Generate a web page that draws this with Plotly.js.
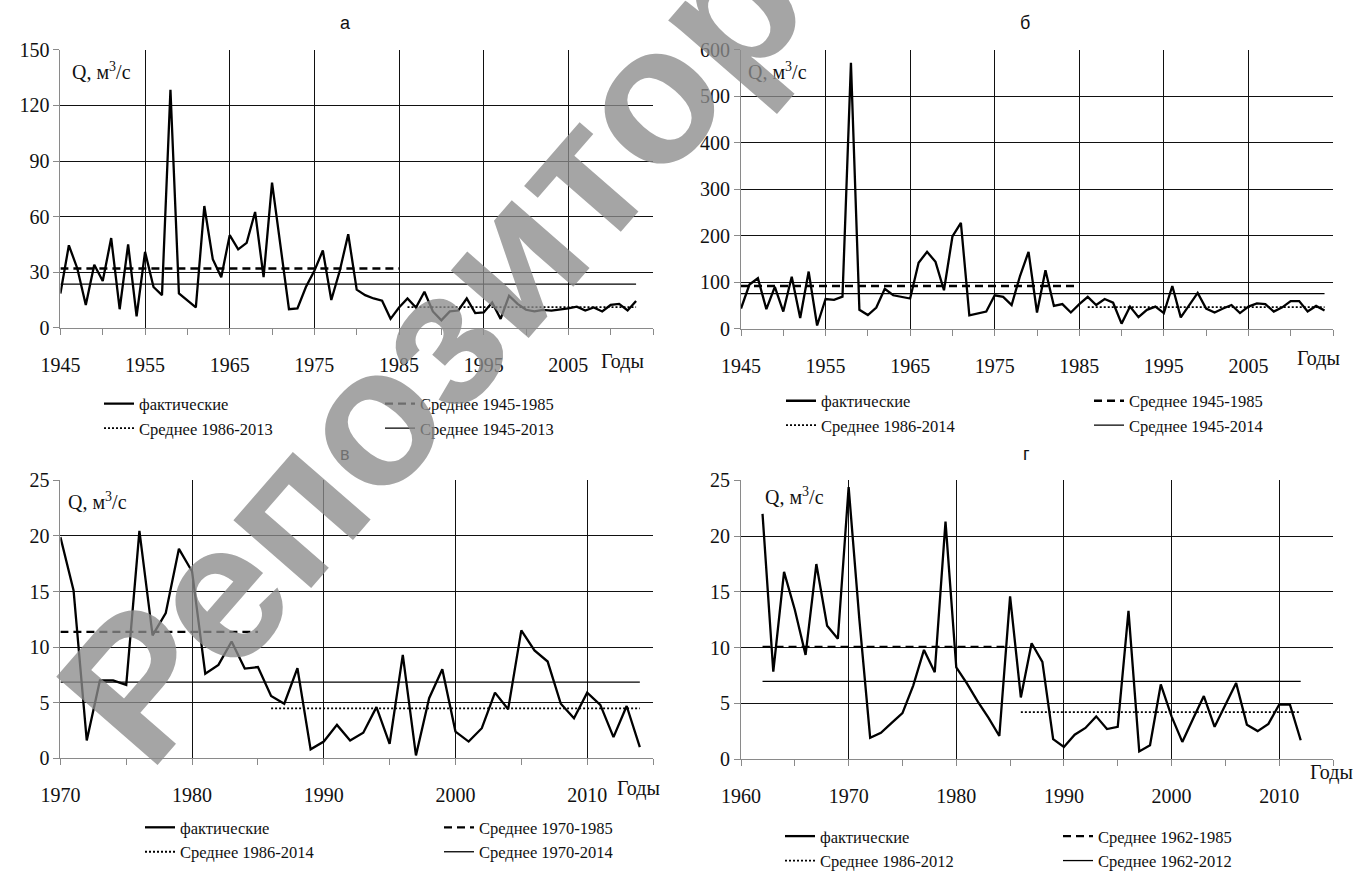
<!DOCTYPE html>
<html><head><meta charset="utf-8">
<script src="https://cdn.plot.ly/plotly-3.0.1.min.js"></script>
<style>html,body{margin:0;padding:0;background:#fff}#chart{width:1361px;height:878px}</style>
</head><body><div id="chart"></div>
<script>
// ---------- DATA ----------
const yearsA = [1945,1946,1947,1948,1949,1950,1951,1952,1953,1954,1955,1956,1957,1958,1959,1960,1961,1962,1963,1964,1965,1966,1967,1968,1969,1970,1971,1972,1973,1974,1975,1976,1977,1978,1979,1980,1981,1982,1983,1984,1985,1986,1987,1988,1989,1990,1991,1992,1993,1994,1995,1996,1997,1998,1999,2000,2001,2002,2003,2004,2005,2006,2007,2008,2009,2010,2011,2012,2013];
const flowA = [18.5,44.5,32,12.3,34,25.2,48.4,10,45,6.2,
  41,22,17.6,128.5,18.5,15,11,65.7,37,27.3,
  50,42.3,45.8,62.5,27.3,78.3,44,10,10.4,22,
  30.8,41.7,15,30.8,50.5,20.6,17.6,15.8,14.6,4.8,
  10.9,15.8,10.9,19.4,8.8,4,8.8,9.3,15.8,7.9,
  8.3,13.6,4.8,17.3,12.9,9.7,8.8,9.7,9.3,9.7,
  10.4,11.4,9.3,11,8.8,12.3,12.9,9.3,14.4];
const periodsA = [[1945,1985],[1986,2013],[1945,2013]];
const meansA = [32, 11.1, 23.6];

const yearsB = [1945,1946,1947,1948,1949,1950,1951,1952,1953,1954,1955,1956,1957,1958,1959,1960,1961,1962,1963,1964,1965,1966,1967,1968,1969,1970,1971,1972,1973,1974,1975,1976,1977,1978,1979,1980,1981,1982,1983,1984,1985,1986,1987,1988,1989,1990,1991,1992,1993,1994,1995,1996,1997,1998,1999,2000,2001,2002,2003,2004,2005,2006,2007,2008,2009,2010,2011,2012,2013,2014];
const flowB = [43.5,95,108.7,42,90,37,112,23,123,7,
  64,62,69,572,40.7,29.5,45.6,86,72,68.7,
  65,142,165.5,144,82.7,198.5,228,28.8,33.7,37,
  72,68.7,51,114,165.5,35,126,49,53,35,
  53,68.7,51,64,56,11,47.7,25,40.7,47.7,
  33.7,92,24.5,51,77,43.5,35,43.5,51,33.7,
  47.7,54.7,53,37,46,59.6,59.6,37,49,39];
const periodsB = [[1945,1985],[1986,2014],[1945,2014]];
const meansB = [92, 46.3, 75.7];

const yearsC = [1970,1971,1972,1973,1974,1975,1976,1977,1978,1979,1980,1981,1982,1983,1984,1985,1986,1987,1988,1989,1990,1991,1992,1993,1994,1995,1996,1997,1998,1999,2000,2001,2002,2003,2004,2005,2006,2007,2008,2009,2010,2011,2012,2013,2014];
const flowC = [19.9,15.1,1.6,7.0,7.0,6.6,20.45,11.06,13.06,18.84,
  16.8,7.6,8.4,10.5,8.07,8.2,5.6,4.9,8.1,0.8,
  1.5,3.0,1.6,2.3,4.6,1.3,9.3,0.25,5.4,8.0,
  2.4,1.5,2.7,5.9,4.4,11.5,9.7,8.7,4.9,3.6,
  5.9,4.8,1.9,4.7,1.0];
const periodsC = [[1970,1985],[1986,2014],[1970,2014]];
const meansC = [11.36, 4.49, 6.84];

const yearsD = [1962,1963,1964,1965,1966,1967,1968,1969,1970,1971,1972,1973,1974,1975,1976,1977,1978,1979,1980,1981,1982,1983,1984,1985,1986,1987,1988,1989,1990,1991,1992,1993,1994,1995,1996,1997,1998,1999,2000,2001,2002,2003,2004,2005,2006,2007,2008,2009,2010,2011,2012];
const flowD = [22.0,7.85,16.8,13.4,9.35,17.5,11.96,10.8,
  24.4,12.5,1.93,2.37,3.25,4.13,6.6,9.8,7.8,21.3,
  8.24,6.77,5.16,3.7,2.08,14.6,5.54,10.4,8.73,1.8,
  1.1,2.2,2.8,3.84,2.7,2.9,13.3,0.7,1.26,6.7,
  3.84,1.55,3.63,5.66,2.9,4.8,6.83,3.1,2.52,3.17,
  4.9,4.9,1.7];
const periodsD = [[1962,1985],[1986,2012],[1962,2012]];
const meansD = [10.08, 4.22, 6.98];

const panelLetters = ['а','б','в','г'];
const xTickA = [1945,1955,1965,1975,1985,1995,2005,2015];
const xTickLabA = ['1945','1955','1965','1975','1985','1995','2005',' '];
const xTickC = [1970,1980,1990,2000,2010];
const xTickLabC = ['1970','1980','1990','2000','2010'];
const xTickD = [1960,1970,1980,1990,2000,2010];
const xTickLabD = ['1960','1970','1980','1990','2000','2010'];
const actualName = 'фактические';
const meanWord = 'Среднее';

// ---------- STYLE ----------
const W = 1361, H = 878;
const SERIF = 'Liberation Serif';
const SANS = 'Liberation Sans';
const GRID = '#111', AXIS = '#8a8a8a', INK = '#111';
const px = v => v / W, py = v => 1 - v / H;

const panels = [
  {years: yearsA, flow: flowA, periods: periodsA, means: meansA, xr: [1945,2015], tv: xTickA, tt: xTickLabA, t0: 1945, ymax: 150, dy: 30,
   box: [60.4, 653, 51, 335], title: [345, 24], q: [70, 73], gody: [622, 369], leg1: [99, 395], leg2: [380, 395]},
  {years: yearsB, flow: flowB, periods: periodsB, means: meansB, xr: [1945,2015], tv: xTickA, tt: xTickLabA, t0: 1945, ymax: 600, dy: 100,
   box: [741, 1333, 51, 336], title: [1025, 24], q: [746, 73], gody: [1318, 366], leg1: [781, 392], leg2: [1089, 392]},
  {years: yearsC, flow: flowC, periods: periodsC, means: meansC, xr: [1970,2015], tv: xTickC, tt: xTickLabC, t0: 1970, ymax: 25, dy: 5,
   box: [60.4, 653, 491, 775], title: [345, 464], q: [66, 512], gody: [638, 806], leg1: [140, 828], leg2: [439, 828]},
  {years: yearsD, flow: flowD, periods: periodsD, means: meansD, xr: [1960,2015], tv: xTickD, tt: xTickLabD, t0: 1960, ymax: 25, dy: 5,
   box: [741, 1333, 491, 776], title: [1026, 464], q: [763, 507], gody: [1331, 790], leg1: [780, 837], leg2: [1058, 837]}
];

const traces = [];
const layout = {
  width: W, height: H, margin: {l: 0, r: 0, t: 0, b: 0},
  paper_bgcolor: '#fff', plot_bgcolor: '#fff', showlegend: true,
  font: {family: SERIF, color: INK}, annotations: []
};

panels.forEach((p, i) => {
  const n = i === 0 ? '' : String(i + 1);
  const xa = 'x' + n, ya = 'y' + n;
  const lg1 = 'legend' + (i === 0 ? '' : String(2 * i + 1));
  const lg2 = 'legend' + String(2 * i + 2);
  const [x0, x1, yT, yB] = p.box;

  layout['xaxis' + n] = {
    domain: [px(x0), px(x1)], anchor: ya, range: p.xr,
    tickmode: 'array', tickvals: p.tv, ticktext: p.tt,
    showgrid: true, gridcolor: GRID, gridwidth: 1,
    showline: true, linecolor: AXIS, linewidth: 1,
    ticks: 'outside', ticklen: 6, tickcolor: AXIS, tickwidth: 1,
    zeroline: false, ticklabelstandoff: 13,
    tickfont: {family: SERIF, size: 20, color: INK},
    minor: {tickmode: 'linear', tick0: p.t0, dtick: 5, ticks: 'outside', ticklen: 6, tickcolor: AXIS, tickwidth: 1, showgrid: false},
    fixedrange: true
  };
  layout['yaxis' + n] = {
    domain: [py(yB), py(yT)], anchor: xa, range: [0, p.ymax],
    tickmode: 'linear', tick0: 0, dtick: p.dy,
    showgrid: true, gridcolor: GRID, gridwidth: 1,
    showline: true, linecolor: AXIS, linewidth: 1,
    ticks: 'outside', ticklen: 6, tickcolor: AXIS, tickwidth: 1,
    zeroline: false,
    tickfont: {family: SERIF, size: 20, color: INK},
    fixedrange: true
  };

  const legCommon = {orientation: 'v', xanchor: 'left', yanchor: 'top', bgcolor: 'rgba(0,0,0,0)', borderwidth: 0,
    font: {family: SERIF, size: 16.5, color: INK}, itemclick: false, itemdoubleclick: false};
  layout[lg1] = Object.assign({x: px(p.leg1[0]), y: py(p.leg1[1])}, legCommon);
  layout[lg2] = Object.assign({x: px(p.leg2[0]), y: py(p.leg2[1])}, legCommon);

  const lab = pr => meanWord + ' ' + pr[0] + '-' + pr[1];
  traces.push({type: 'scatter', mode: 'lines', xaxis: xa, yaxis: ya, legend: lg2, legendrank: 2,
    x: [p.periods[2][0], p.periods[2][1]], y: [p.means[2], p.means[2]],
    name: lab(p.periods[2]), line: {color: '#000', width: 1.3}, hoverinfo: 'skip'});
  traces.push({type: 'scatter', mode: 'lines', xaxis: xa, yaxis: ya, legend: lg2, legendrank: 1,
    x: [p.periods[0][0], p.periods[0][1]], y: [p.means[0], p.means[0]],
    name: lab(p.periods[0]), line: {color: '#000', width: 2.3, dash: '8px,5px'}, hoverinfo: 'skip'});
  traces.push({type: 'scatter', mode: 'lines', xaxis: xa, yaxis: ya, legend: lg1, legendrank: 2,
    x: [p.periods[1][0], p.periods[1][1]], y: [p.means[1], p.means[1]],
    name: lab(p.periods[1]), line: {color: '#000', width: 1.8, dash: '2px,2px'}, hoverinfo: 'skip'});
  traces.push({type: 'scatter', mode: 'lines', xaxis: xa, yaxis: ya, legend: lg1, legendrank: 1,
    x: p.years, y: p.flow, name: actualName, line: {color: '#000', width: 2.3}});

  layout.annotations.push(
    {xref: 'paper', yref: 'paper', x: px(p.title[0]), y: py(p.title[1]), xanchor: 'center', yanchor: 'middle',
     text: panelLetters[i], showarrow: false, font: {family: SANS, size: 18, color: INK}},
    {xref: 'paper', yref: 'paper', x: px(p.q[0]), y: py(p.q[1]), xanchor: 'left', yanchor: 'middle',
     text: 'Q, м<sup>3</sup>/с', showarrow: false, font: {family: SERIF, size: 20, color: INK}},
    {xref: 'paper', yref: 'paper', x: px(p.gody[0]), y: py(p.gody[1]), xanchor: 'center', yanchor: 'middle',
     text: 'Годы', showarrow: false, font: {family: SERIF, size: 20, color: INK}}
  );
});

// watermark
layout.annotations.push({xref: 'paper', yref: 'paper', x: px(510), y: py(262), xanchor: 'center', yanchor: 'middle',
  text: 'Репозиторий', textangle: -49, showarrow: false,
  font: {family: SANS, size: 195, weight: 'bold', color: 'rgba(140,140,140,0.78)'}});

Plotly.newPlot('chart', traces, layout, {staticPlot: true, displayModeBar: false});
</script></body></html>
